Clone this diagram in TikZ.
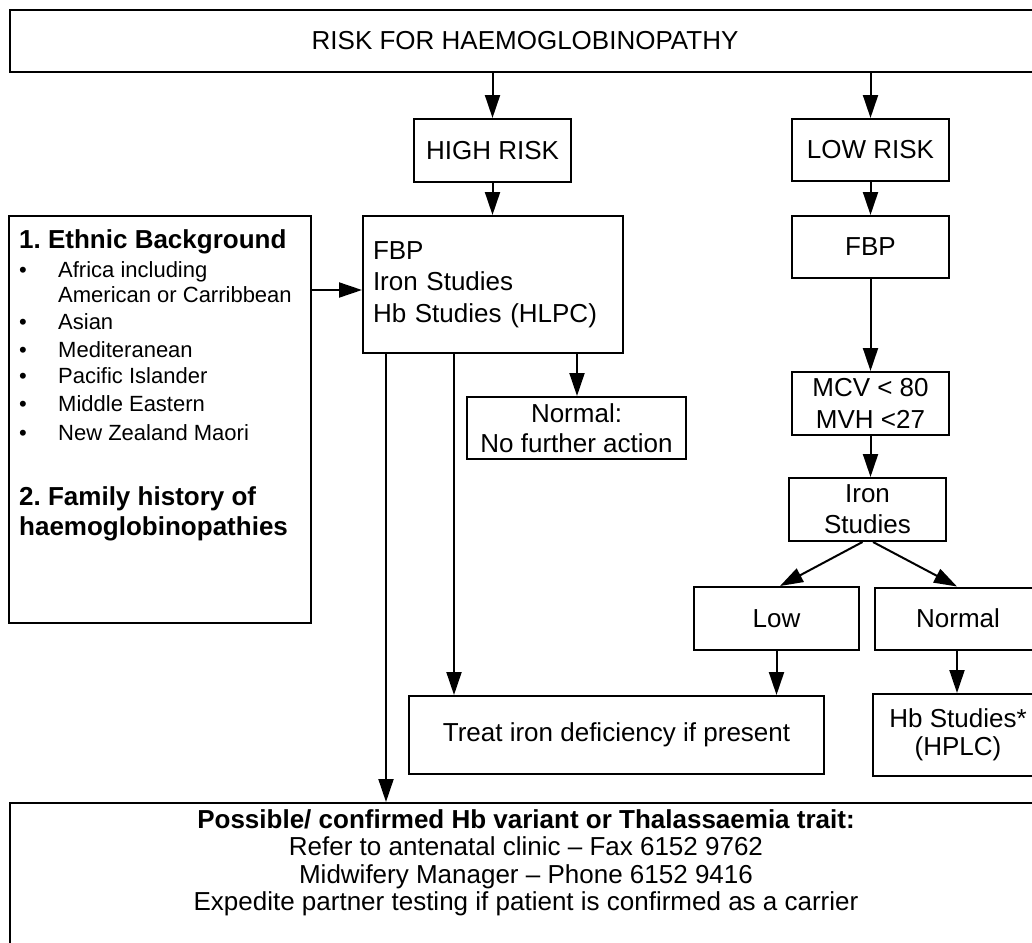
\documentclass[tikz,border=0pt]{standalone}
\usepackage{fontspec}
\setmainfont{Liberation Sans}
\usetikzlibrary{arrows.meta,calc}
\frenchspacing
\newcommand\fsmain{\fontsize{26pt}{31.5pt}\selectfont}
\newcommand\fsbul{\fontsize{22pt}{27pt}\selectfont}
\tikzset{
  box/.style={draw, line width=2pt, rectangle, inner sep=0pt, font=\fsmain, align=center},
  arr/.style={line width=2pt, -{Triangle[length=23pt,width=15pt]}},
  txt/.style={inner sep=0pt, font=\fsmain},
  bul/.style={inner sep=0pt, font=\fsbul},
}
\begin{document}
\begin{tikzpicture}[x=1pt,y=-1pt]
\useasboundingbox (0,0) rectangle (1032,942);
\clip (0,0) rectangle (1032,942);
\fill[white] (0,0) rectangle (1032,942);

% boxes
\node[box, minimum width=1030pt, minimum height=62pt] (top) at (525,41) {RISK FOR HAEMOGLOBINOPATHY};
\node[box, minimum width=157pt, minimum height=63pt] (high) at (492.5,150.5) {HIGH RISK};
\node[box, minimum width=157pt, minimum height=62pt] (low) at (870.5,150) {LOW RISK};
\node[box, minimum width=260pt, minimum height=137pt, align=left, text width=240pt] (fbph) at (493,284.5) {FBP\\Iron Studies\\Hb Studies (HLPC)};
\node[box, minimum width=157pt, minimum height=62pt] (fbpl) at (870.5,247) {FBP};
\node[box, minimum width=219pt, minimum height=62pt, font=\fontsize{26pt}{30pt}\selectfont] (nfa) at (576.5,428) {Normal:\\No further action};
\node[box, minimum width=157pt, minimum height=63pt, font=\fontsize{26pt}{32pt}\selectfont] (mcv) at (870.5,403.5) {MCV < 80\\MVH <27};
\node[box, minimum width=157pt, minimum height=63pt, font=\fontsize{26pt}{31pt}\selectfont] (iron) at (867.5,509.5) {Iron\\Studies};
\node[box, minimum width=165pt, minimum height=63pt] (low2) at (776.5,618.5) {Low};
\node[box, minimum width=166pt, minimum height=62pt] (norm2) at (958,618.5) {Normal};
\node[box, minimum width=415pt, minimum height=78pt] (treat) at (616.5,735) {Treat iron deficiency if present};
\node[box, minimum width=170pt, minimum height=82pt, font=\fontsize{26pt}{28pt}\selectfont] (hbs) at (958,735) {Hb Studies*\\(HPLC)};
\node[box, minimum width=302pt, minimum height=407pt] (eth) at (160,419.5) {};
\node[box, minimum width=1030pt, minimum height=160pt] (bot) at (525,883) {};

% ethnic background text
\node[txt, anchor=base west] (e1) at (19,248) {\textbf{1. Ethnic Background}};
\node[bul, anchor=base] (d1) at (23,277) {•};
\node[bul, anchor=base west] (t1) at (58,277) {Africa including};
\node[bul, anchor=base west] (t1b) at (58,302) {American or Carribbean};
\node[bul, anchor=base] (d2) at (23,329) {•};
\node[bul, anchor=base west] (t2) at (58,329) {Asian};
\node[bul, anchor=base] (d3) at (23,357) {•};
\node[bul, anchor=base west] (t3) at (58,357) {Mediteranean};
\node[bul, anchor=base] (d4) at (23,383) {•};
\node[bul, anchor=base west] (t4) at (58,383) {Pacific Islander};
\node[bul, anchor=base] (d5) at (23,411) {•};
\node[bul, anchor=base west] (t5) at (58,411) {Middle Eastern};
\node[bul, anchor=base] (d6) at (23,440) {•};
\node[bul, anchor=base west] (t6) at (58,440) {New Zealand Maori};
\node[txt, anchor=base west] (e2) at (19,505) {\textbf{2. Family history of}};
\node[txt, anchor=base west] (e3) at (19,535) {\textbf{haemoglobinopathies}};

% bottom text
\node[txt, anchor=base] (l1) at (526,828) {\textbf{Possible/ confirmed Hb variant or Thalassaemia trait:}};
\node[txt, anchor=base] (l2) at (526,855.5) {Refer to antenatal clinic – Fax 6152 9762};
\node[txt, anchor=base] (l3) at (526,883) {Midwifery Manager – Phone 6152 9416};
\node[txt, anchor=base] (l4) at (526,910.5) {Expedite partner testing if patient is confirmed as a carrier};

% connectors
\draw[arr] (high.north |- top.south) -- (high.north);
\draw[arr] (low.north |- top.south) -- (low.north);
\draw[arr] (high.south) -- (high.south |- fbph.north);
\draw[arr] (low.south) -- (low.south |- fbpl.north);
\draw[arr] (fbpl.south) -- (fbpl.south |- mcv.north);
\draw[arr] (mcv.south) -- (mcv.south |- iron.north);
\draw[arr] ([xshift=-5pt]iron.south) -- ([xshift=3.5pt]low2.north);
\draw[arr] ([xshift=5.5pt]iron.south) -- ([xshift=-1pt]norm2.north);
\draw[arr] (low2.south) -- (low2.south |- treat.north);
\draw[arr] ([xshift=-1pt]norm2.south) -- ([xshift=-1pt]norm2.south |- hbs.north);
\coordinate (fw) at ([yshift=-5.5pt]fbph.west);
\draw[arr] (eth.east |- fw) -- (fw);
\coordinate (p1) at ([xshift=-107pt]fbph.south);
\coordinate (p2) at ([xshift=-39pt]fbph.south);
\coordinate (p3) at ([xshift=84pt]fbph.south);
\draw[arr] (p1) -- (p1 |- bot.north);
\draw[arr] (p2) -- (p2 |- treat.north);
\draw[arr] (p3) -- (p3 |- nfa.north);
\end{tikzpicture}
\end{document}
